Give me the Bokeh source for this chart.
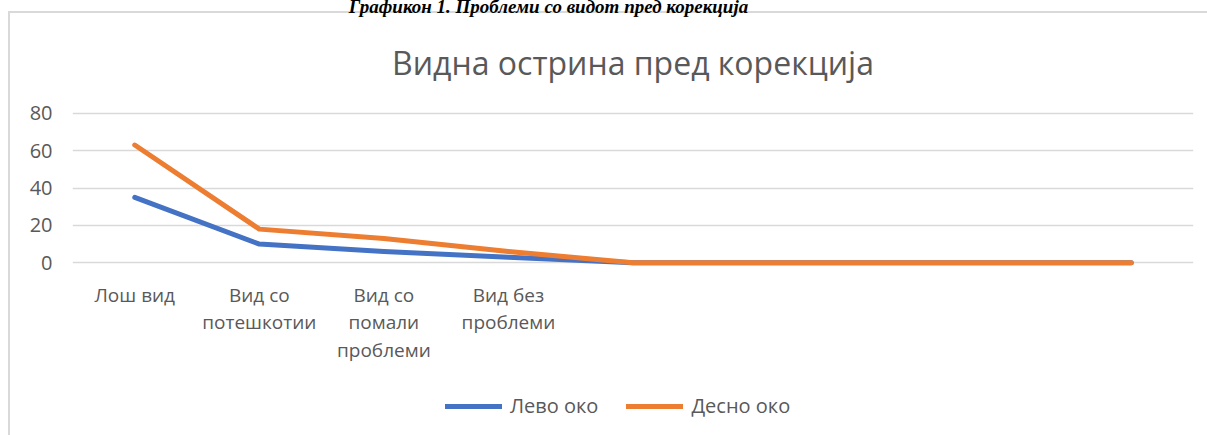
from bokeh.plotting import figure
from bokeh.layouts import column
from bokeh.models import Range1d, FixedTicker, Legend, LegendItem, Div
from bokeh.embed import file_html
from bokeh.resources import INLINE

caption = "Графикон 1. Проблеми со видот  пред корекција"
chart_title = "Видна острина пред корекција"
categories = ["Лош вид", "Вид со\nпотешкотии", "Вид со\nпомали\nпроблеми", "Вид без\nпроблеми",
              "", "", "", "", ""]
left_eye = [35, 10, 6, 3, 0, 0, 0, 0, 0]
right_eye = [63, 18, 13, 6, 0, 0, 0, 0, 0]
series_names = ["Лево око", "Десно око"]
series_colors = ["#4472C4", "#ED7D31"]
y_ticks = [0, 20, 40, 60, 80]

W, H = 1207, 435
H_CAP = 13
H_LEG = 55
H_MAIN = H - H_CAP - H_LEG
FL, FR = 72, 1193
FT, FB = 106 - H_CAP, 266 - H_CAP
n = len(categories)
xs = list(range(n))
Y0, Y1 = -2, 82

TEXT = "#595959"
FONT = "Open Sans"
BORDER = "#d9d9d9"

frame_css = {
    "background-color": "white",
    "background-image": f"linear-gradient({BORDER}, {BORDER}), linear-gradient({BORDER}, {BORDER})",
    "background-size": "2px 100%, 100% 2px",
    "background-position": "8px 11px, 8px 11px",
    "background-repeat": "no-repeat",
}

cap = Div(text=caption, width=W, height=H_CAP, margin=(0, 0, 0, 0),
          styles={"font-family": "'Liberation Serif', serif", "font-size": "19px",
                  "font-weight": "bold", "font-style": "italic", "color": "black",
                  "line-height": "13px", "text-align": "center", "white-space": "nowrap",
                  "box-sizing": "border-box", "padding-right": "110px"})

p = figure(width=W, height=H_MAIN, output_backend="svg", toolbar_location=None,
           x_range=Range1d(-0.5, n - 0.5), y_range=Range1d(Y0, Y1),
           min_border_left=FL, min_border_right=W - FR, min_border_top=FT,
           min_border_bottom=H_MAIN - FB)
p.outline_line_color = None
p.background_fill_color = "white"
p.border_fill_alpha = 0

p.title.text = chart_title
p.title.text_font = FONT
p.title.text_font_size = "32px"
p.title.text_font_style = "normal"
p.title.text_color = TEXT
p.title.align = "center"
p.title.standoff = 51

line_style = dict(line_width=5, line_join="round", line_cap="round")
r1 = p.line(xs, left_eye, line_color=series_colors[0], **line_style)
r2 = p.line(xs, right_eye, line_color=series_colors[1], **line_style)

p.xgrid.grid_line_color = None
p.ygrid.grid_line_color = BORDER
p.ygrid.grid_line_width = 1.5

p.yaxis.ticker = FixedTicker(ticks=y_ticks)
p.yaxis.axis_line_color = None
p.yaxis.major_tick_line_color = None
p.yaxis.minor_tick_line_color = None
p.yaxis.major_label_text_font = FONT
p.yaxis.major_label_text_font_size = "20px"
p.yaxis.major_label_text_color = TEXT
p.yaxis.major_label_standoff = 14

p.xaxis.ticker = FixedTicker(ticks=xs)
p.xaxis.major_label_overrides = {i: c for i, c in zip(xs, categories)}
p.xaxis.axis_line_color = None
p.xaxis.major_tick_line_color = None
p.xaxis.minor_tick_line_color = None
p.xaxis.major_label_text_font = FONT
p.xaxis.major_label_text_font_size = "19px"
p.xaxis.major_label_text_color = TEXT
p.xaxis.major_label_text_line_height = 1.07
p.xaxis.major_label_standoff = 9

# legend strip: its own small figure whose frame fills it, so the legend is not clipped;
# its series copies lie outside its ranges and serve only as legend swatches
pl = figure(width=W, height=H_LEG, output_backend="svg", toolbar_location=None,
            x_range=Range1d(-100, -99), y_range=Range1d(-100, -99),
            x_axis_type=None, y_axis_type=None,
            min_border=0, min_border_left=0, min_border_right=0,
            min_border_top=0, min_border_bottom=0)
pl.outline_line_color = None
pl.background_fill_alpha = 0
pl.border_fill_alpha = 0
pl.grid.visible = False
k1 = pl.line(xs, left_eye, line_color=series_colors[0], **line_style)
k2 = pl.line(xs, right_eye, line_color=series_colors[1], **line_style)

legend = Legend(items=[LegendItem(label=series_names[0], renderers=[k1]),
                       LegendItem(label=series_names[1], renderers=[k2])],
                orientation="horizontal", location=(373, 16),
                glyph_width=57, glyph_height=20, label_standoff=8, spacing=28,
                padding=0, margin=0, border_line_color=None, background_fill_alpha=0,
                label_text_font=FONT, label_text_font_size="20px", label_text_color=TEXT)
pl.add_layout(legend, "center")

layout = column(cap, p, pl, spacing=0, styles=frame_css)

open("out.html", "w").write(file_html(layout, INLINE))
